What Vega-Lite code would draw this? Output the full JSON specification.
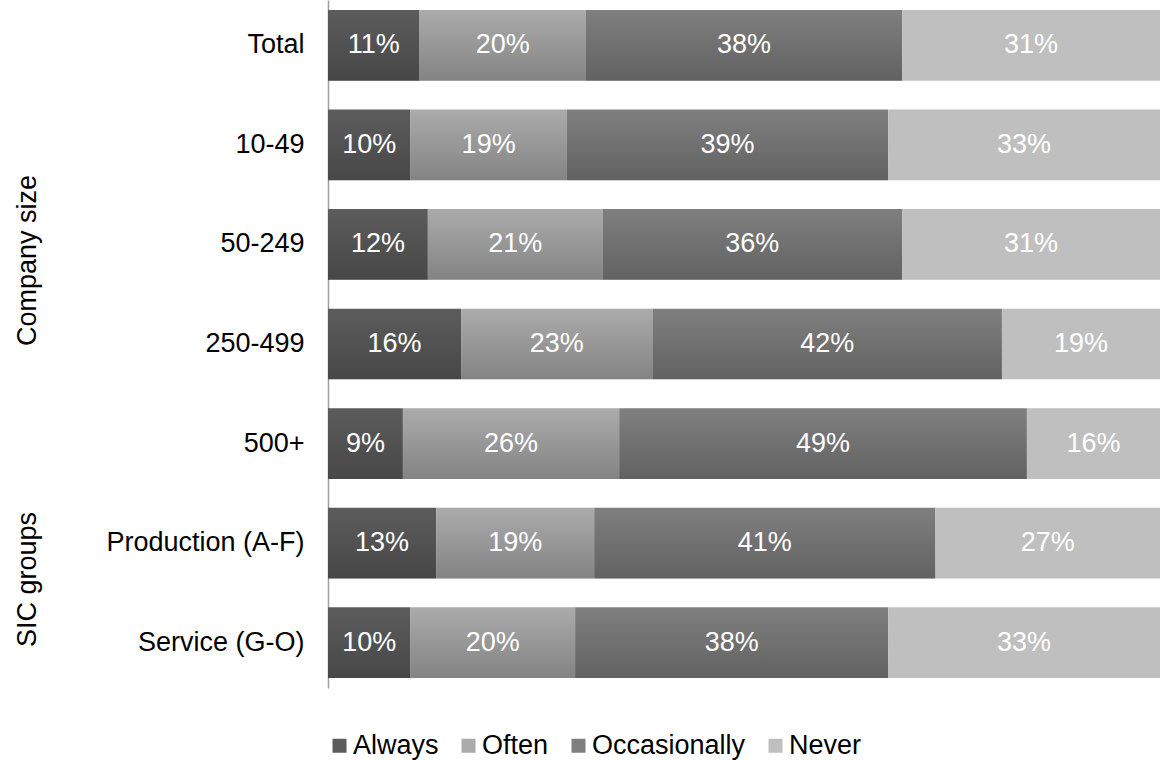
{
  "$schema": "https://vega.github.io/schema/vega-lite/v6.json",
  "autosize": "none",
  "width": 832,
  "height": 688,
  "padding": {"left": 328, "top": 0, "right": 1, "bottom": 72},
  "background": "white",
  "config": {
    "font": "Liberation Sans",
    "view": {"stroke": null}
  },
  "data": {
    "values": [
      {"group": "Total", "answer": "Always", "order": 1, "share": 0.11},
      {"group": "Total", "answer": "Often", "order": 2, "share": 0.20},
      {"group": "Total", "answer": "Occasionally", "order": 3, "share": 0.38},
      {"group": "Total", "answer": "Never", "order": 4, "share": 0.31},
      {"group": "10-49", "answer": "Always", "order": 1, "share": 0.10},
      {"group": "10-49", "answer": "Often", "order": 2, "share": 0.19},
      {"group": "10-49", "answer": "Occasionally", "order": 3, "share": 0.39},
      {"group": "10-49", "answer": "Never", "order": 4, "share": 0.33},
      {"group": "50-249", "answer": "Always", "order": 1, "share": 0.12},
      {"group": "50-249", "answer": "Often", "order": 2, "share": 0.21},
      {"group": "50-249", "answer": "Occasionally", "order": 3, "share": 0.36},
      {"group": "50-249", "answer": "Never", "order": 4, "share": 0.31},
      {"group": "250-499", "answer": "Always", "order": 1, "share": 0.16},
      {"group": "250-499", "answer": "Often", "order": 2, "share": 0.23},
      {"group": "250-499", "answer": "Occasionally", "order": 3, "share": 0.42},
      {"group": "250-499", "answer": "Never", "order": 4, "share": 0.19},
      {"group": "500+", "answer": "Always", "order": 1, "share": 0.09},
      {"group": "500+", "answer": "Often", "order": 2, "share": 0.26},
      {"group": "500+", "answer": "Occasionally", "order": 3, "share": 0.49},
      {"group": "500+", "answer": "Never", "order": 4, "share": 0.16},
      {"group": "Production (A-F)", "answer": "Always", "order": 1, "share": 0.13},
      {"group": "Production (A-F)", "answer": "Often", "order": 2, "share": 0.19},
      {"group": "Production (A-F)", "answer": "Occasionally", "order": 3, "share": 0.41},
      {"group": "Production (A-F)", "answer": "Never", "order": 4, "share": 0.27},
      {"group": "Service (G-O)", "answer": "Always", "order": 1, "share": 0.10},
      {"group": "Service (G-O)", "answer": "Often", "order": 2, "share": 0.20},
      {"group": "Service (G-O)", "answer": "Occasionally", "order": 3, "share": 0.38},
      {"group": "Service (G-O)", "answer": "Never", "order": 4, "share": 0.33}
    ]
  },
  "encoding": {
    "y": {
      "field": "group",
      "type": "nominal",
      "sort": ["Total", "10-49", "50-249", "250-499", "500+", "Production (A-F)", "Service (G-O)"],
      "scale": {"paddingInner": 0.29, "paddingOuter": 0.1},
      "axis": {
        "title": "Company size",
        "titleAngle": -90,
        "titleX": -301,
        "titleY": 260,
        "titleAlign": "center",
        "titleBaseline": "middle",
        "titleFontSize": 27,
        "titleFontWeight": "normal",
        "titleColor": "black",
        "labelFontSize": 27,
        "labelColor": "black",
        "labelPadding": 24,
        "labelLimit": 320,
        "ticks": false,
        "domainColor": "#a0a0a0",
        "domainWidth": 1.5,
        "grid": false
      }
    },
    "x": {
      "field": "share",
      "type": "quantitative",
      "stack": "normalize",
      "scale": {"domain": [0, 1], "nice": false},
      "axis": {
        "title": "SIC groups",
        "titleAngle": -90,
        "titleX": -301,
        "titleY": -109,
        "titleAlign": "center",
        "titleBaseline": "middle",
        "titleFontSize": 27,
        "titleFontWeight": "normal",
        "titleColor": "black",
        "labels": false,
        "ticks": false,
        "domain": false,
        "grid": false
      }
    },
    "order": {"field": "order", "type": "quantitative"}
  },
  "layer": [
    {
      "mark": {"type": "bar"},
      "encoding": {
        "color": {
          "field": "answer",
          "type": "nominal",
          "sort": ["Always", "Often", "Occasionally", "Never"],
          "scale": {
            "domain": ["Always", "Often", "Occasionally", "Never"],
            "range": ["#5c5c5c", "#ababab", "#7f7f7f", "#bfbfbf"]
          },
          "legend": {
            "title": null,
            "orient": "none",
            "direction": "horizontal",
            "legendX": -2,
            "legendY": 732,
            "symbolType": "square",
            "symbolSize": 196,
            "symbolStrokeWidth": 0,
            "symbolOpacity": 1,
            "labelFontSize": 27,
            "labelColor": "black",
            "labelOffset": 0,
            "columnPadding": 16,
            "labelLimit": 400
          }
        }
      }
    },
    {
      "mark": {
        "type": "bar",
        "color": {
          "gradient": "linear",
          "x1": 0, "y1": 0, "x2": 0, "y2": 1,
          "stops": [
            {"offset": 0, "color": "rgba(0,0,0,0)"},
            {"offset": 1, "color": "rgba(0,0,0,0.23)"}
          ]
        }
      },
      "encoding": {
        "detail": {"field": "answer"},
        "opacity": {
          "condition": {"test": "datum.answer === 'Never'", "value": 0},
          "value": 1
        }
      }
    },
    {
      "mark": {"type": "text", "color": "white", "fontSize": 27, "align": "center", "baseline": "middle"},
      "encoding": {
        "x": {"field": "share", "type": "quantitative", "stack": "normalize", "bandPosition": 0.5},
        "text": {"field": "share", "type": "quantitative", "format": ".0%"},
        "detail": {"field": "answer"}
      }
    }
  ]
}
